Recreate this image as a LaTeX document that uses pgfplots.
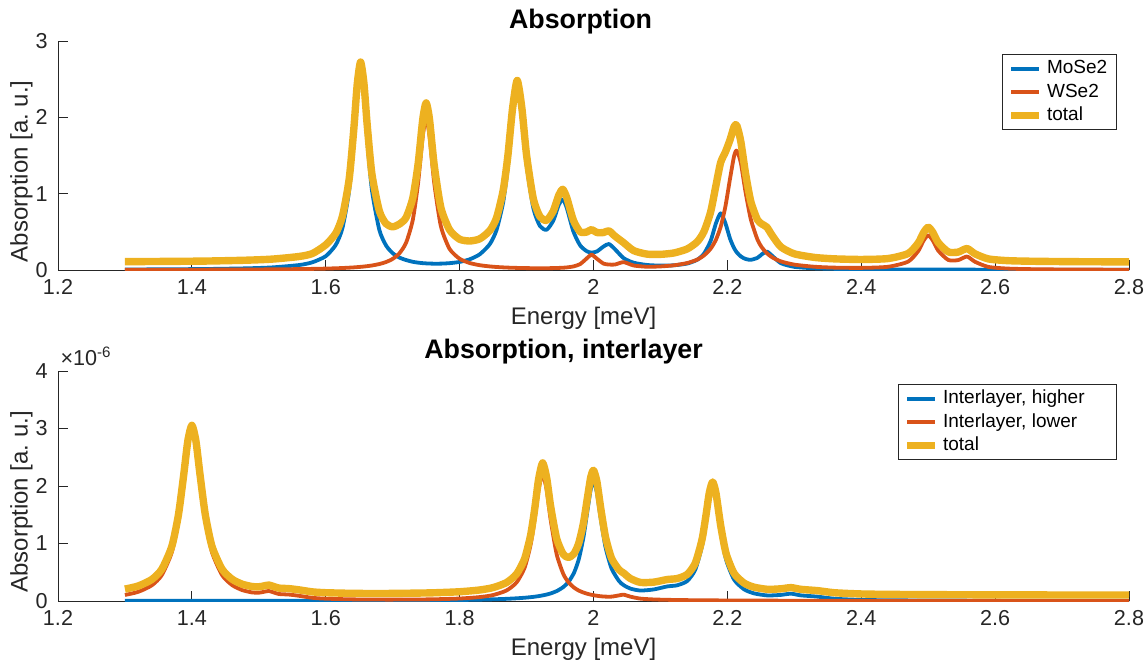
\documentclass[border=0pt]{standalone}
\usepackage{fontspec}
\setmainfont{Liberation Sans}
\usepackage{pgfplots}
\usepackage{pgfplotstable}
\pgfplotsset{compat=1.18}

\definecolor{mblue}{rgb}{0,0.447,0.741}
\definecolor{morange}{rgb}{0.85,0.325,0.098}
\definecolor{myellow}{rgb}{0.929,0.694,0.125}
\definecolor{axgray}{rgb}{0.15,0.15,0.15}

% intralayer spectra: energy, MoSe2, WSe2, total
\pgfplotstableread{
x b r t
1.30 0.0064 0.0026 0.109
1.36 0.0092 0.0033 0.1125
1.42 0.0130 0.0044 0.117
1.48 0.0216 0.0067 0.128
1.52 0.0341 0.0085 0.1426
1.56 0.0648 0.0120 0.1768
1.58 0.1009 0.0147 0.2156
1.60 0.1813 0.0185 0.330
1.615 0.3293 0.0226 0.482
1.625 0.5513 0.0261 0.707
1.635 1.0422 0.0305 1.193
1.642 1.7006 0.0343 1.855
1.647 2.2740 0.0375 2.430
1.652 2.5630 0.0412 2.724
1.657 2.2751 0.0455 2.450
1.662 1.7026 0.0506 1.893
1.669 1.0456 0.0591 1.255
1.68 0.5265 0.0780 0.775
1.69 0.3229 0.1041 0.607
1.70 0.2199 0.1459 0.566
1.71 0.1628 0.2183 0.601
1.72 0.1306 0.3564 0.687
1.73 0.1074 0.6545 0.942
1.738 0.0963 1.1438 1.390
1.745 0.0898 1.7584 1.978
1.75 0.0866 1.9826 2.189
1.755 0.0844 1.7586 1.973
1.762 0.0828 1.1441 1.377
1.772 0.0834 0.5736 0.817
1.785 0.0895 0.2761 0.526
1.80 0.1058 0.1473 0.403
1.815 0.1400 0.0915 0.380
1.83 0.2052 0.0630 0.408
1.845 0.3378 0.0467 0.515
1.855 0.5205 0.0396 0.680
1.865 0.8855 0.0343 1.040
1.872 1.3466 0.0315 1.490
1.879 1.9794 0.0292 2.110
1.886 2.3551 0.0275 2.483
1.893 1.9948 0.0260 2.121
1.90 1.3814 0.0248 1.506
1.91 0.8153 0.0237 0.939
1.92 0.5759 0.0233 0.699
1.93 0.5276 0.0237 0.651
1.94 0.6485 0.0250 0.774
1.948 0.8509 0.0272 0.978
1.954 0.9267 0.0298 1.057
1.96 0.8156 0.0338 0.949
1.97 0.5036 0.0466 0.650
1.98 0.3230 0.0772 0.500
1.99 0.2454 0.1526 0.498
1.997 0.2286 0.2015 0.530
2.005 0.2426 0.1482 0.491
2.015 0.3077 0.0836 0.491
2.023 0.3408 0.0717 0.513
2.032 0.2726 0.0715 0.444
2.045 0.1555 0.1029 0.358
2.06 0.0954 0.0590 0.254
2.08 0.0658 0.0426 0.208
2.10 0.0578 0.0468 0.205
2.12 0.0617 0.0613 0.223
2.14 0.0845 0.0914 0.276
2.155 0.1346 0.1357 0.370
2.165 0.2127 0.1906 0.503
2.175 0.3816 0.2789 0.761
2.183 0.6130 0.3982 1.111
2.19 0.7424 0.5666 1.409
2.197 0.6145 0.8294 1.544
2.204 0.4099 1.1971 1.707
2.21 0.2866 1.4915 1.878
2.214 0.2319 1.5649 1.897
2.22 0.1784 1.4083 1.687
2.227 0.1448 1.0295 1.274
2.235 0.1333 0.6650 0.898
2.245 0.1597 0.3976 0.657
2.252 0.2093 0.2903 0.600
2.259 0.2416 0.2196 0.561
2.267 0.1858 0.1657 0.452
2.28 0.0891 0.1126 0.302
2.30 0.0413 0.0704 0.212
2.33 0.0221 0.0426 0.165
2.36 0.0149 0.0311 0.146
2.40 0.0103 0.0278 0.138
2.44 0.0078 0.0421 0.150
2.47 0.0065 0.1096 0.216
2.485 0.0062 0.2468 0.353
2.493 0.0060 0.3829 0.489
2.50 0.0058 0.4548 0.561
2.507 0.0056 0.3859 0.492
2.515 0.0055 0.2541 0.360
2.53 0.0052 0.1314 0.237
2.545 0.0050 0.1301 0.235
2.558 0.0048 0.1762 0.281
2.57 0.0046 0.1074 0.212
2.59 0.0044 0.0403 0.145
2.62 0.0040 0.0182 0.122
2.66 0.0036 0.0102 0.114
2.72 0.0030 0.0059 0.109
2.80 0.0025 0.0036 0.106
}\topdata

% interlayer spectra (units of 1e-6): energy, higher, lower, total
\pgfplotstableread{
x b r t
1.30 0.0019 0.1048 0.2067
1.32 0.0020 0.1597 0.2617
1.34 0.0021 0.2714 0.3735
1.355 0.0022 0.4491 0.5513
1.37 0.0022 0.8475 0.9497
1.38 0.0022 1.4025 1.5047
1.388 0.0022 2.1119 2.2141
1.394 0.0023 2.6856 2.7879
1.40 0.0023 2.9532 3.0555
1.406 0.0023 2.6857 2.7880
1.412 0.0023 2.1120 2.2143
1.42 0.0023 1.4028 1.5051
1.43 0.0024 0.8497 0.9521
1.445 0.0025 0.4529 0.5554
1.46 0.0026 0.2775 0.3801
1.475 0.0027 0.1906 0.2933
1.49 0.0028 0.1489 0.2517
1.50 0.0029 0.1440 0.2469
1.508 0.0029 0.1608 0.2637
1.515 0.0030 0.1741 0.2771
1.522 0.0030 0.1499 0.2529
1.53 0.0031 0.1215 0.2246
1.545 0.0032 0.1118 0.2150
1.56 0.0033 0.0906 0.1939
1.58 0.0036 0.0553 0.1589
1.60 0.0038 0.0403 0.1441
1.64 0.0045 0.0286 0.1331
1.68 0.0056 0.0246 0.1302
1.72 0.0098 0.0249 0.1347
1.76 0.0128 0.0296 0.1424
1.80 0.0177 0.0432 0.1609
1.83 0.0235 0.0681 0.1916
1.85 0.0293 0.1039 0.2332
1.87 0.0377 0.1828 0.3205
1.885 0.0468 0.3219 0.4687
1.897 0.0567 0.5764 0.7331
1.906 0.0665 0.9756 1.1421
1.912 0.0748 1.4125 1.5873
1.918 0.0848 1.9333 2.1181
1.924 0.0974 2.2045 2.4019
1.930 0.1125 1.9333 2.1458
1.936 0.1318 1.4125 1.6443
1.945 0.1722 0.8120 1.0842
1.955 0.2436 0.4666 0.8102
1.963 0.3371 0.3209 0.7580
1.971 0.4938 0.2321 0.8259
1.978 0.7255 0.1812 1.0067
1.985 1.1085 0.1473 1.3558
1.991 1.5758 0.1248 1.8006
1.996 1.9491 0.1103 2.1594
2.000 2.0723 0.1008 2.2731
2.005 1.8914 0.0911 2.0825
2.011 1.4180 0.0824 1.6004
2.018 0.9336 0.0761 1.1097
2.027 0.5660 0.0759 0.7419
2.038 0.3488 0.0971 0.5459
2.045 0.2758 0.1101 0.4859
2.055 0.2161 0.0759 0.3920
2.07 0.1820 0.0414 0.3234
2.09 0.2009 0.0270 0.3279
2.11 0.2531 0.0205 0.3736
2.125 0.2732 0.0174 0.3906
2.14 0.3473 0.0150 0.4623
2.152 0.5447 0.0135 0.6582
2.162 0.9505 0.0124 1.0629
2.168 1.3758 0.0118 1.4876
2.173 1.7705 0.0114 1.8819
2.178 1.9590 0.0110 2.0700
2.183 1.7640 0.0107 1.8747
2.19 1.2035 0.0103 1.3138
2.198 0.7215 0.0098 0.8313
2.21 0.3728 0.0089 0.4817
2.225 0.2027 0.0083 0.3110
2.24 0.1323 0.0078 0.2401
2.26 0.0966 0.0067 0.2033
2.28 0.1063 0.0060 0.2123
2.295 0.1272 0.0055 0.2327
2.31 0.0978 0.0050 0.2028
2.335 0.0753 0.0045 0.1798
2.36 0.0396 0.0040 0.1436
2.40 0.0191 0.0034 0.1225
2.45 0.0118 0.0028 0.1146
2.55 0.0064 0.0021 0.1085
2.65 0.0041 0.0016 0.1057
2.80 0.0025 0.0012 0.1037
}\interdata

\pgfplotsset{
  specaxis/.style={
    scale only axis, width=535.5pt,
    axis lines=left,
    axis line style={-, draw=axgray, line width=0.5pt},
    tick align=inside, major tick length=5pt,
    tick style={draw=axgray, line width=0.5pt},
    xmin=1.2, xmax=2.8, ymin=0,
    xtick={1.2,1.4,1.6,1.8,2,2.2,2.4,2.6,2.8},
    xticklabels={1.2,1.4,1.6,1.8,2,2.2,2.4,2.6,2.8},
    /pgf/number format/assume math mode=true,
    ticklabel style={font=\fontsize{10.8}{12}\selectfont, text=axgray, inner sep=0pt},
    xticklabel style={anchor=north, yshift=-4.5pt},
    yticklabel style={anchor=east, xshift=-5pt},
    xlabel={Energy [meV]},
    ylabel={Absorption [a.\ u.]},
    every axis x label/.style={at={(axis description cs:0.4907,0)}, anchor=north,
      yshift=-18.5pt, inner sep=0pt, font=\fontsize{12}{14}\selectfont, text=axgray},
    every axis y label/.style={at={(axis description cs:-0.02334,0.431)}, rotate=90,
      anchor=south, inner sep=0pt, font=\fontsize{12}{14}\selectfont, text=axgray},
    every axis title/.style={anchor=base, yshift=6.5pt, inner sep=0pt,
      font=\bfseries\fontsize{13.4}{15}\selectfont},
    legend cell align=left,
    legend image code/.code={\draw[#1, line cap=butt] (0pt,0pt) -- (14pt,0pt);},
    legend style={anchor=north east, draw=axgray, line width=0.5pt, fill=white,
      inner xsep=2.5pt, inner ysep=2.55pt, row sep=2.7pt, column sep=2pt,
      font=\fontsize{9.5}{11}\selectfont,
      nodes={inner sep=0pt, text height=7pt, text depth=2pt}},
  },
  compline/.style={line width=1.9pt, line join=round, smooth, tension=0.4},
  totline/.style={myellow, line width=3.7pt, line join=round, smooth, tension=0.4},
}

\begin{document}
\begin{tikzpicture}

\begin{axis}[specaxis, at={(0,165.5pt)}, anchor=south west, height=114.5pt,
  ymax=3, ytick={0,1,2,3},
  title={Absorption},
  title style={at={(axis description cs:0.4879,1)}},
  legend style={at={(axis description cs:0.98842,0.9432)}}]
  \addplot[mblue, compline] table[x=x, y=b] {\topdata};
  \addlegendentry{\makebox[32pt][l]{MoSe2}}
  \addplot[morange, compline] table[x=x, y=r] {\topdata};
  \addlegendentry{\makebox[32pt][l]{WSe2}}
  \addplot[totline] table[x=x, y=t] {\topdata};
  \addlegendentry{\makebox[32pt][l]{total}}
\end{axis}

\begin{axis}[specaxis, at={(0,0)}, anchor=south west, height=115pt,
  ymax=4, ytick={0,1,2,3,4},
  title={Absorption, interlayer},
  title style={at={(axis description cs:0.472,1)}},
  legend style={at={(axis description cs:0.98842,0.9435)}},
  extra description/.code={
    \node[anchor=base west, inner sep=0pt, text=axgray,
      font=\fontsize{10.8}{12}\selectfont] at (0.002,1.026)
      {×10\textsuperscript{-6}};
  }]
  \addplot[mblue, compline] table[x=x, y=b] {\interdata};
  \addlegendentry{\makebox[84pt][l]{Interlayer, higher}}
  \addplot[morange, compline] table[x=x, y=r] {\interdata};
  \addlegendentry{\makebox[84pt][l]{Interlayer, lower}}
  \addplot[totline] table[x=x, y=t] {\interdata};
  \addlegendentry{\makebox[84pt][l]{total}}
\end{axis}

\pgfresetboundingbox
\path[use as bounding box] (-29pt,-32.5pt) rectangle (545pt,300.5pt);
\end{tikzpicture}
\end{document}
